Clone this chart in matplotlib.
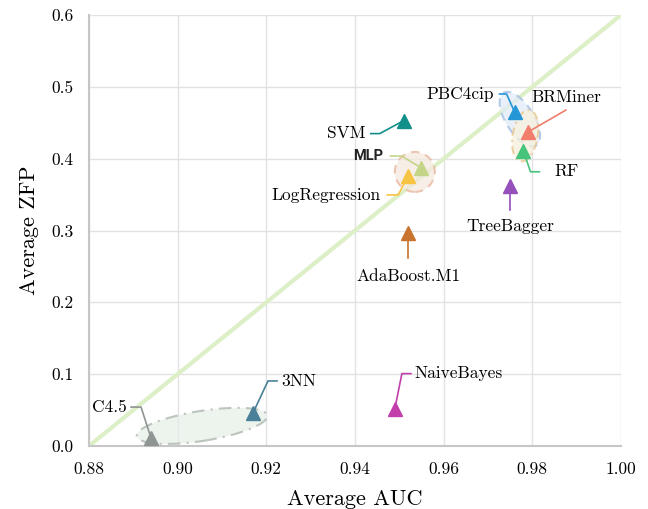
import matplotlib
matplotlib.use("Agg")
import matplotlib.pyplot as plt
import matplotlib.transforms as mtransforms
from matplotlib.patches import Ellipse
import numpy as np

plt.rcParams['font.family'] = 'serif'
plt.rcParams['font.serif'] = ['cmr10', 'DejaVu Serif']
plt.rcParams['mathtext.fontset'] = 'cm'
plt.rcParams['axes.formatter.use_mathtext'] = True

# data
names = ['C4.5', '3NN', 'NaiveBayes', 'AdaBoost.M1', 'LogRegression', 'MLP',
         'SVM', 'PBC4cip', 'BRMiner', 'RF', 'TreeBagger']
auc = [0.894, 0.917, 0.949, 0.952, 0.952, 0.955, 0.951, 0.976, 0.979, 0.978, 0.975]
zfp = [0.011, 0.046, 0.052, 0.297, 0.376, 0.387, 0.453, 0.465, 0.437, 0.411, 0.362]
colors = ['#8f9592', '#4a8098', '#c23fab', '#c8742e', '#f7c342', '#c3d688',
          '#11908a', '#2596d6', '#f17d6c', '#47c47c', '#9650bb']
xticks = [0.88, 0.90, 0.92, 0.94, 0.96, 0.98, 1.00]
yticks = [0.0, 0.1, 0.2, 0.3, 0.4, 0.5, 0.6]

# leader lines: elbow (dx, dy) px, horizontal run px, text offset px, alignment
leaders = {
    'C4.5': ((-10, 31), -10, (-4, 0), 'right'),
    '3NN': ((15, 32), 9, (4, 0), 'left'),
    'NaiveBayes': ((7, 35), 9, (4, 0), 'left'),
    'AdaBoost.M1': ((0, -25), 0, (0, -19), 'center'),
    'LogRegression': ((-10, -19), -11, (-7, 0), 'right'),
    'MLP': ((-20, 12), -11, (-7, 0), 'right'),
    'SVM': ((-24, -13), -9, (-5, 0), 'right'),
    'PBC4cip': ((-8, 18), -7, (-6, 0), 'right'),
    'BRMiner': ((38, 22), 0, (0, 13), 'center'),
    'RF': ((7, -21), 9, (15, 0), 'left'),
    'TreeBagger': ((0, -24), 0, (0, -16), 'center'),
}

fig = plt.figure(figsize=(6.48, 5.09), dpi=100)
ax = fig.add_axes([0.1373, 0.1238, 0.821, 0.8467])
ax.set_xlim(0.88, 1.00)
ax.set_ylim(0, 0.6)
ax.set_xticks(xticks)
ax.set_xticklabels(['%.2f' % v for v in xticks])
ax.set_yticks(yticks)
ax.set_yticklabels(['%.1f' % v for v in yticks])
ax.tick_params(length=0, labelsize=12.5, pad=11)
ax.grid(True, color='#e2e2e2', lw=1.0)
ax.set_axisbelow(True)
for s in ['top', 'right']:
    ax.spines[s].set_visible(False)
for s in ['left', 'bottom']:
    ax.spines[s].set_color('#c6c6c6')
    ax.spines[s].set_linewidth(1.5)
ax.set_xlabel('Average AUC', fontsize=16, labelpad=9)
ax.set_ylabel('Average ZFP', fontsize=16, labelpad=9)

ax.plot([0.88, 1.00], [0.0, 0.6], color='#dcefc6', lw=3, zorder=1, solid_capstyle='butt')


def blob(x, y, w, h, ang, ec, fc, ls):
    # ellipse sized in pixels, centred on a data point
    tr = fig.dpi_scale_trans + mtransforms.ScaledTranslation(x, y, ax.transData)
    e = Ellipse((0, 0), w / 100, h / 100, angle=ang, transform=tr,
                facecolor=fc, edgecolor=ec, lw=1.5, ls=ls, alpha=0.75, zorder=2)
    ax.add_patch(e)


blob(0.9055, 0.028, 132, 30, 9, '#a9b4aa', '#e7efe8', (0, (6, 3, 1, 3)))
blob(0.9772, 0.455, 62, 28, -58, '#9dbbe0', '#e3ecf7', (0, (4, 3)))
blob(0.9784, 0.432, 52, 25, 80, '#e6c58c', '#f8f0dd', (0, (4, 2, 1, 2)))
blob(0.9535, 0.3816, 40, 40, 0, '#e8b49a', '#f3e9e0', (0, (4, 3)))

inv = ax.transData.inverted()
for n, x, y, c in zip(names, auc, zfp, colors):
    (ex, ey), h, (tx, ty), ha = leaders[n]
    p = ax.transData.transform((x, y))
    pts = np.array([p, p + [ex, ey], p + [ex + h, ey]])
    d = inv.transform(pts)
    ax.plot(d[:, 0], d[:, 1], color=c, lw=1.2, zorder=3)
    t = inv.transform(pts[-1] + [tx, ty])
    if n == 'MLP':
        ax.text(t[0], t[1], n, ha=ha, va='center', fontsize=10.5,
                family='Roboto', fontweight='bold', color='#222222', zorder=5)
    else:
        ax.text(t[0], t[1], n, ha=ha, va='center', fontsize=12.5, zorder=5)
    ax.plot(x, y, marker='^', ms=10, color=c, mec=c, ls='none', zorder=4)

fig.savefig('out.png', dpi=100)
